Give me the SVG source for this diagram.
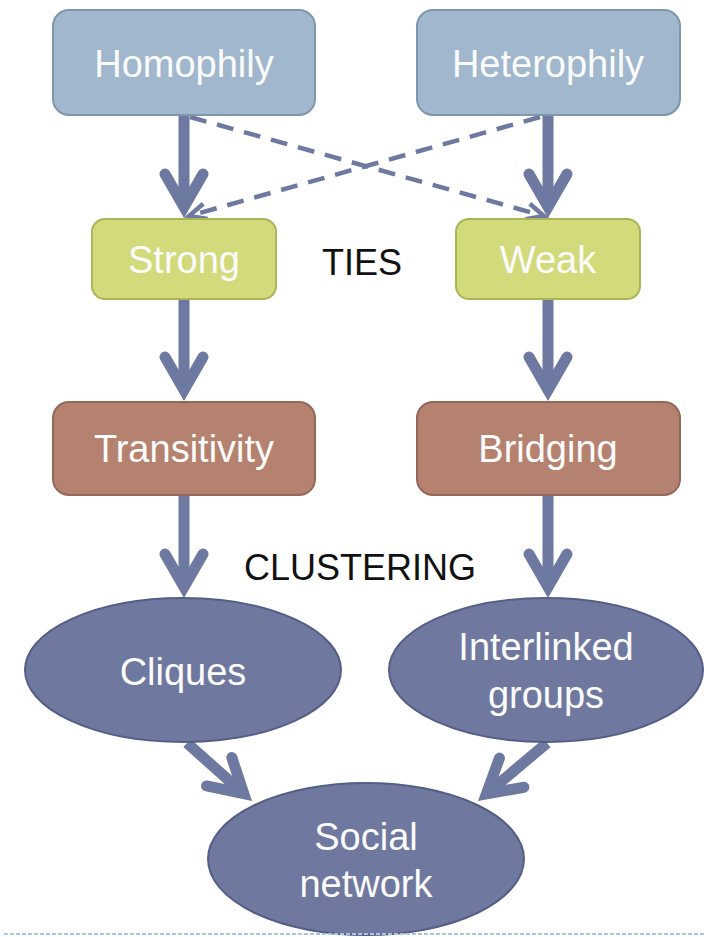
<svg xmlns="http://www.w3.org/2000/svg" width="704" height="937" viewBox="0 0 704 937">
  <defs>
    <style>
      .lbl { font-family: "Liberation Sans", Arial, sans-serif; font-size: 38px; fill: #fbfbfb; text-anchor: middle; }
      .cap { font-family: "Liberation Sans", Arial, sans-serif; font-size: 36px; fill: #111111; text-anchor: middle; }
      .phily { fill: #a0b7cd; stroke: #7f96ab; stroke-width: 2; }
      .tie { fill: #d3da7b; stroke: #abb457; stroke-width: 2; }
      .mech { fill: #b5826f; stroke: #93685a; stroke-width: 2; }
      .group { fill: #6f799f; stroke: #545e86; stroke-width: 2; }
      .solid { stroke: #6e79a1; stroke-width: 11; fill: none; marker-end: url(#vhead); }
      .dash { stroke: #6e79a1; stroke-width: 4.5; fill: none; stroke-dasharray: 17 11; marker-end: url(#vhead-thin); }
    </style>
    <!-- open V arrowheads; vertex sits at the line end -->
    <marker id="vhead" markerUnits="userSpaceOnUse" viewBox="-45 -30 60 60" markerWidth="60" markerHeight="60" refX="0" refY="0" orient="auto" overflow="visible">
      <path d="M-33,-19 L0,0 L-33,19" fill="none" stroke="#6e79a1" stroke-width="11" stroke-linecap="round" stroke-linejoin="miter" stroke-miterlimit="10"/>
    </marker>
    <marker id="vhead-thin" markerUnits="userSpaceOnUse" viewBox="-30 -15 40 30" markerWidth="40" markerHeight="30" refX="0" refY="0" orient="auto" overflow="visible">
      <path d="M-17,-8 L0,0 L-17,8" fill="none" stroke="#6e79a1" stroke-width="4.5" stroke-linejoin="miter"/>
    </marker>
  </defs>

  <rect width="704" height="937" fill="#ffffff"/>

  <!-- connectors -->
  <g id="connectors">
    <line class="solid" x1="184" y1="115" x2="184" y2="207"/>
    <line class="solid" x1="548" y1="115" x2="548" y2="207"/>
    <line class="dash" x1="190" y1="117" x2="544" y2="216"/>
    <line class="dash" x1="540" y1="117" x2="189" y2="216"/>
    <line class="solid" x1="184" y1="299" x2="184" y2="390"/>
    <line class="solid" x1="548" y1="299" x2="548" y2="390"/>
    <line class="solid" x1="184" y1="495" x2="184" y2="587"/>
    <line class="solid" x1="548" y1="495" x2="548" y2="587"/>
    <line class="solid" x1="187" y1="743" x2="243.8" y2="793.7"/>
    <line class="solid" x1="547" y1="743" x2="486.4" y2="793.9"/>
  </g>

  <g id="homophily">
    <rect class="phily" x="53" y="10" width="262" height="105" rx="16"/>
    <text class="lbl" x="184" y="77">Homophily</text>
  </g>
  <g id="heterophily">
    <rect class="phily" x="417" y="10" width="263" height="105" rx="16"/>
    <text class="lbl" x="548" y="77">Heterophily</text>
  </g>

  <g id="strong">
    <rect class="tie" x="92" y="219" width="184" height="80" rx="13"/>
    <text class="lbl" x="184" y="273">Strong</text>
  </g>
  <g id="weak">
    <rect class="tie" x="456" y="219" width="184" height="80" rx="13"/>
    <text class="lbl" x="548" y="273">Weak</text>
  </g>
  <g id="ties-label">
    <text class="cap" x="362" y="275">TIES</text>
  </g>

  <g id="transitivity">
    <rect class="mech" x="53" y="402" width="262" height="93" rx="16"/>
    <text class="lbl" x="184" y="462">Transitivity</text>
  </g>
  <g id="bridging">
    <rect class="mech" x="417" y="402" width="263" height="93" rx="16"/>
    <text class="lbl" x="548" y="462">Bridging</text>
  </g>
  <g id="clustering-label">
    <text class="cap" x="360" y="580">CLUSTERING</text>
  </g>

  <g id="cliques">
    <ellipse class="group" cx="183" cy="670" rx="158" ry="72"/>
    <text class="lbl" x="183" y="685">Cliques</text>
  </g>
  <g id="interlinked-groups">
    <ellipse class="group" cx="546" cy="670" rx="157" ry="72"/>
    <text class="lbl" x="546" y="660">Interlinked</text>
    <text class="lbl" x="546" y="708">groups</text>
  </g>

  <g id="social-network">
    <ellipse class="group" cx="366" cy="859" rx="158" ry="76"/>
    <text class="lbl" x="366" y="850">Social</text>
    <text class="lbl" x="366" y="897">network</text>
  </g>

  <!-- footer rule -->
  <line x1="4" y1="934" x2="704" y2="934" stroke="#a9c6e3" stroke-width="2" stroke-dasharray="4 2"/>
</svg>
